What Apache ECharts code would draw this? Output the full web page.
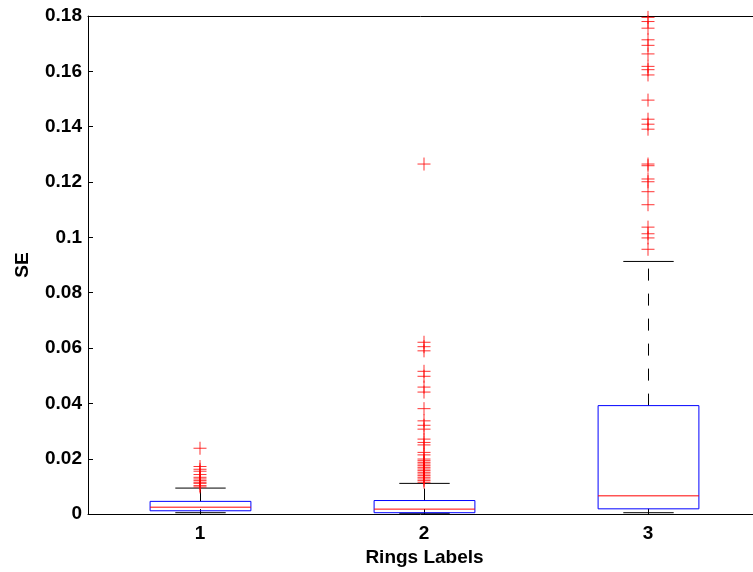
<!DOCTYPE html>
<html>
<head>
<meta charset="utf-8">
<script src="https://cdn.jsdelivr.net/npm/echarts@6/dist/echarts.min.js"></script>
<style>
  html, body { margin: 0; padding: 0; background: #fff; }
  #chart { width: 753px; height: 572px; }
</style>
</head>
<body>
<div id="chart"></div>
<script>
// group positions on the x axis
const groups = [1, 2, 3]
// box statistics per group
const lowerWhisker = [0.0005, 0.0003, 0.0005]
const q1 = [0.0012, 0.0005, 0.0019]
const median = [0.0025, 0.0018, 0.0066]
const q3 = [0.0046, 0.0049, 0.0392]
const upperWhisker = [0.0094, 0.0111, 0.0913]
// outliers per group
const outliers1 = [0.0238, 0.0172, 0.0162, 0.0155, 0.0143, 0.0133, 0.0127, 0.0121, 0.0115, 0.0111, 0.0103, 0.0098]
const outliers2 = [0.1265, 0.0621, 0.0605, 0.059, 0.0516, 0.0498, 0.0459, 0.0441, 0.0381, 0.0337, 0.0321, 0.0307,
  0.0271, 0.0259, 0.025, 0.0223, 0.0214, 0.0199, 0.0193, 0.0187, 0.0181, 0.0175, 0.0169, 0.0163, 0.0157,
  0.0151, 0.0145, 0.0139, 0.0133, 0.0127, 0.0121, 0.0115]
const outliers3 = [0.1795, 0.178, 0.1756, 0.1714, 0.1694, 0.1663, 0.1618, 0.1606, 0.1587, 0.1496, 0.1427,
  0.1409, 0.1391, 0.1265, 0.1259, 0.1211, 0.1201, 0.1165, 0.1118, 0.1037, 0.1013, 0.0998, 0.0957]
const yTicks = { min: 0, max: 0.18, interval: 0.02 }

const boxData = groups.map((g, i) => [g, lowerWhisker[i], q1[i], median[i], q3[i], upperWhisker[i]])
const outlierData = []
;[outliers1, outliers2, outliers3].forEach((list, i) => {
  list.forEach(v => outlierData.push([groups[i], v]))
})

function renderBox (params, api) {
  const g = api.value(0)
  const lo = api.coord([g, api.value(1)])
  const b1 = api.coord([g, api.value(2)])
  const md = api.coord([g, api.value(3)])
  const b3 = api.coord([g, api.value(4)])
  const hi = api.coord([g, api.value(5)])
  const unit = api.size([1, 0])[0]
  const half = unit * 0.225
  const cap = unit * 0.1125
  const x = Math.round(b1[0]) + 0.5
  const black = { stroke: '#000', lineWidth: 1 }
  const dashed = { stroke: '#000', lineWidth: 1, lineDash: [12, 13] }
  return {
    type: 'group',
    children: [
      { type: 'line', shape: { x1: x, y1: b3[1], x2: x, y2: hi[1] }, style: dashed },
      { type: 'line', shape: { x1: x, y1: b1[1], x2: x, y2: lo[1] }, style: dashed },
      { type: 'line', shape: { x1: x - cap, y1: hi[1], x2: x + cap, y2: hi[1] }, style: black },
      { type: 'line', shape: { x1: x - cap, y1: lo[1], x2: x + cap, y2: lo[1] }, style: black },
      { type: 'rect', shape: { x: x - half, y: b3[1], width: half * 2, height: b1[1] - b3[1] }, style: { fill: 'none', stroke: '#0000ff', lineWidth: 1 } },
      { type: 'line', shape: { x1: x - half, y1: md[1], x2: x + half, y2: md[1] }, style: { stroke: '#ff0000', lineWidth: 1 } }
    ]
  }
}

const myChart = echarts.init(document.getElementById('chart'))
const font = 'Liberation Sans, Arial, sans-serif'
const labelStyle = { color: '#000', fontSize: 19, fontWeight: 'bold', fontFamily: font }
const option = {
  animation: false,
  backgroundColor: '#fff',
  grid: {
    left: 88,
    top: 16,
    right: 0,
    bottom: 56
  },
  xAxis: [
    {
      type: 'value',
      min: 0.5,
      max: 0.5 + 665 / 224,
      name: 'Rings Labels',
      nameLocation: 'middle',
      nameGap: 27,
      nameTextStyle: Object.assign({ padding: [0, 0, 0, 8] }, labelStyle),
      axisLine: { show: true, lineStyle: { color: '#000' } },
      axisTick: { show: true, inside: true, length: 5, customValues: groups, lineStyle: { color: '#000' } },
      axisLabel: Object.assign({ margin: 10, customValues: groups }, labelStyle),
      splitLine: { show: false }
    },
    {
      type: 'value',
      position: 'top',
      min: 0.5,
      max: 0.5 + 665 / 224,
      axisLine: { show: true, lineStyle: { color: '#000' } },
      axisTick: { show: false },
      axisLabel: { show: false },
      splitLine: { show: false }
    }
  ],
  yAxis: {
    type: 'value',
    min: yTicks.min,
    max: yTicks.max,
    interval: yTicks.interval,
    name: 'SE',
    nameLocation: 'middle',
    nameGap: 56,
    nameTextStyle: labelStyle,
    axisLine: { show: true, lineStyle: { color: '#000' } },
    axisTick: { show: true, inside: true, length: 5, lineStyle: { color: '#000' } },
    axisLabel: Object.assign({ margin: 6 }, labelStyle),
    splitLine: { show: false }
  },
  series: [
    {
      type: 'custom',
      renderItem: renderBox,
      data: boxData,
      clip: true
    },
    {
      type: 'scatter',
      data: outlierData,
      symbol: 'path://M0,6L12,6M6,0L6,12',
      symbolSize: 13,
      itemStyle: { color: 'none', borderColor: '#ff0000', borderWidth: 1 },
      clip: true
    }
  ]
}
myChart.setOption(option)
window.addEventListener('resize', () => myChart.resize())
</script>
</body>
</html>
